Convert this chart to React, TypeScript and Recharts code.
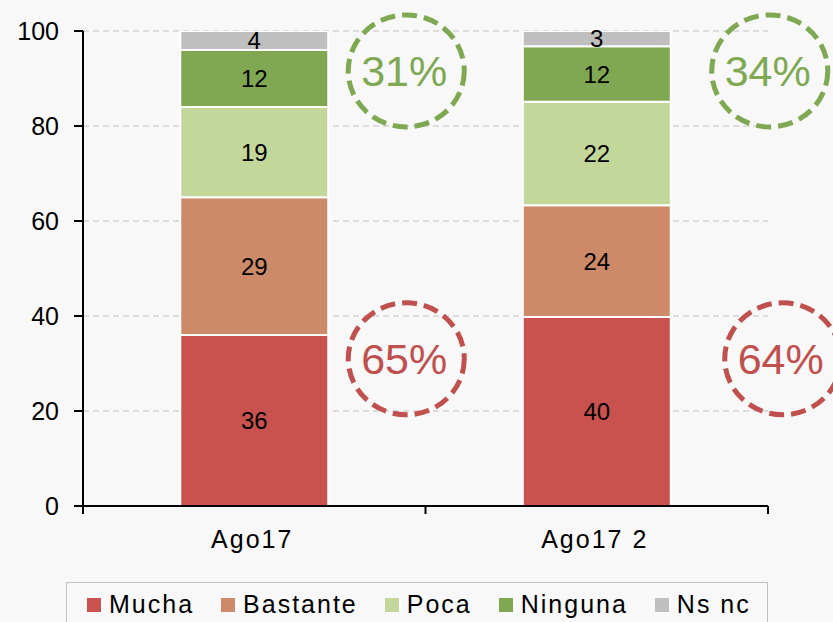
import { BarChart, Bar, XAxis, YAxis, CartesianGrid, LabelList, ReferenceDot } from 'recharts'

const categories = ['Ago17', 'Ago17 2']
const mucha = [36, 39.8]
const bastante = [29, 23.5]
const poca = [19, 21.8]
const ninguna = [12, 11.7]
const nsnc = [4, 3.2]
const yTicks = [0, 20, 40, 60, 80, 100]

const seriesNames = ['Mucha', 'Bastante', 'Poca', 'Ninguna', 'Ns nc']
const seriesValues = [mucha, bastante, poca, ninguna, nsnc]
const seriesColors = ['#C9524F', '#CD8A68', '#C4D79B', '#80A853', '#BFBFBF']

// dashed circle call-outs (category, y value, text)
const noteCats = ['Ago17', 'Ago17', 'Ago17 2', 'Ago17 2']
const noteValues = [91.6, 31, 91.6, 31]
const noteLabels = ['31%', '65%', '34%', '64%']
const noteColors = ['#7FA852', '#C0504D', '#7FA852', '#C0504D']
const noteShift = [152, 152, 173, 186]

const FONT = '"Liberation Sans", Arial, sans-serif'
const W = 833
const H = 622
const LEFT = 83
const RIGHT = 768
const TOP = 31
const BOTTOM = 506
const BAND = (RIGHT - LEFT) / categories.length

const data = categories.map((name, i) => {
  const row: Record<string, string | number> = { name }
  seriesNames.forEach((s, k) => {
    row[s] = seriesValues[k][i]
  })
  return row
})

const XTick = (props: any) => {
  const { x, payload, index } = props
  const half = BAND / 2
  return (
    <g>
      <line x1={x - half} x2={x - half} y1={BOTTOM} y2={BOTTOM + 8} stroke="#000" strokeWidth={2} />
      {index === categories.length - 1 && (
        <line x1={x + half} x2={x + half} y1={BOTTOM} y2={BOTTOM + 8} stroke="#000" strokeWidth={2} />
      )}
      <text x={x - 2} y={548} textAnchor="middle" fontSize={25} fontFamily={FONT} fill="#000" letterSpacing={2}>
        {payload.value}
      </text>
    </g>
  )
}

const noteShape = (i: number) => (p: any) => (
  <g>
    <ellipse
      cx={p.cx + noteShift[i]}
      cy={p.cy}
      rx={58}
      ry={56}
      fill="none"
      stroke={noteColors[i]}
      strokeWidth={5}
      strokeDasharray="15 7"
    />
    <text
      x={p.cx + noteShift[i] - 2}
      y={p.cy}
      dy="0.36em"
      textAnchor="middle"
      fontSize={43}
      fontFamily={FONT}
      fill={noteColors[i]}
    >
      {noteLabels[i]}
    </text>
  </g>
)

export default function App() {
  return (
    <div style={{ position: 'relative', width: W, height: H, background: '#F8F8F8', overflow: 'hidden' }}>
      <style>{`body{margin:0;background:#F8F8F8}`}</style>
      <BarChart
        width={W}
        height={H}
        data={data}
        margin={{ top: TOP, right: W - RIGHT, bottom: H - BOTTOM - 50, left: 0 }}
        barCategoryGap="28.4%"
      >
        <CartesianGrid vertical={false} stroke="#C0C0C0" strokeDasharray="6 4" />
        <XAxis
          dataKey="name"
          height={50}
          axisLine={{ stroke: '#000', strokeWidth: 2 }}
          tickLine={false}
          tick={<XTick />}
          interval={0}
        />
        <YAxis
          width={LEFT}
          domain={[0, 100]}
          ticks={yTicks}
          allowDataOverflow
          axisLine={{ stroke: '#000', strokeWidth: 2 }}
          tickLine={{ stroke: '#000', strokeWidth: 2 }}
          tickSize={9}
          tickMargin={15}
          tick={{ fill: '#000', fontSize: 25, fontFamily: FONT }}
        />
        {seriesNames.map((s, k) => (
          <Bar key={s} dataKey={s} stackId="a" fill={seriesColors[k]} stroke="#fff" strokeWidth={2} isAnimationActive={false}>
            <LabelList
              dataKey={s}
              position="center"
              formatter={(v: any) => Math.round(Number(v))}
              fill="#000"
              fontSize={24}
              fontFamily={FONT}
            />
          </Bar>
        ))}
        {noteLabels.map((l, i) => (
          <ReferenceDot key={l} x={noteCats[i]} y={noteValues[i]} r={1} ifOverflow="visible" shape={noteShape(i)} />
        ))}
      </BarChart>
      <div
        style={{
          position: 'absolute',
          left: 66,
          top: 582,
          width: 702,
          height: 60,
          border: '1.5px solid #C3C3C3',
          boxSizing: 'border-box',
        }}
      >
        <div
          style={{
            position: 'absolute',
            left: 20,
            top: 7,
            display: 'flex',
            alignItems: 'center',
            gap: 27,
            fontFamily: FONT,
            fontSize: 25,
            lineHeight: '28px',
            letterSpacing: 2,
            color: '#000',
            whiteSpace: 'nowrap',
          }}
        >
          {seriesNames.map((s, k) => (
            <div key={s} style={{ display: 'flex', alignItems: 'center' }}>
              <span
                style={{
                  display: 'inline-block',
                  width: 14,
                  height: 14,
                  background: seriesColors[k],
                  borderRight: '2px solid #fff',
                  borderBottom: '1px solid #fff',
                  marginRight: 6,
                  marginTop: 2,
                }}
              />
              <span>{s}</span>
            </div>
          ))}
        </div>
      </div>
    </div>
  )
}
